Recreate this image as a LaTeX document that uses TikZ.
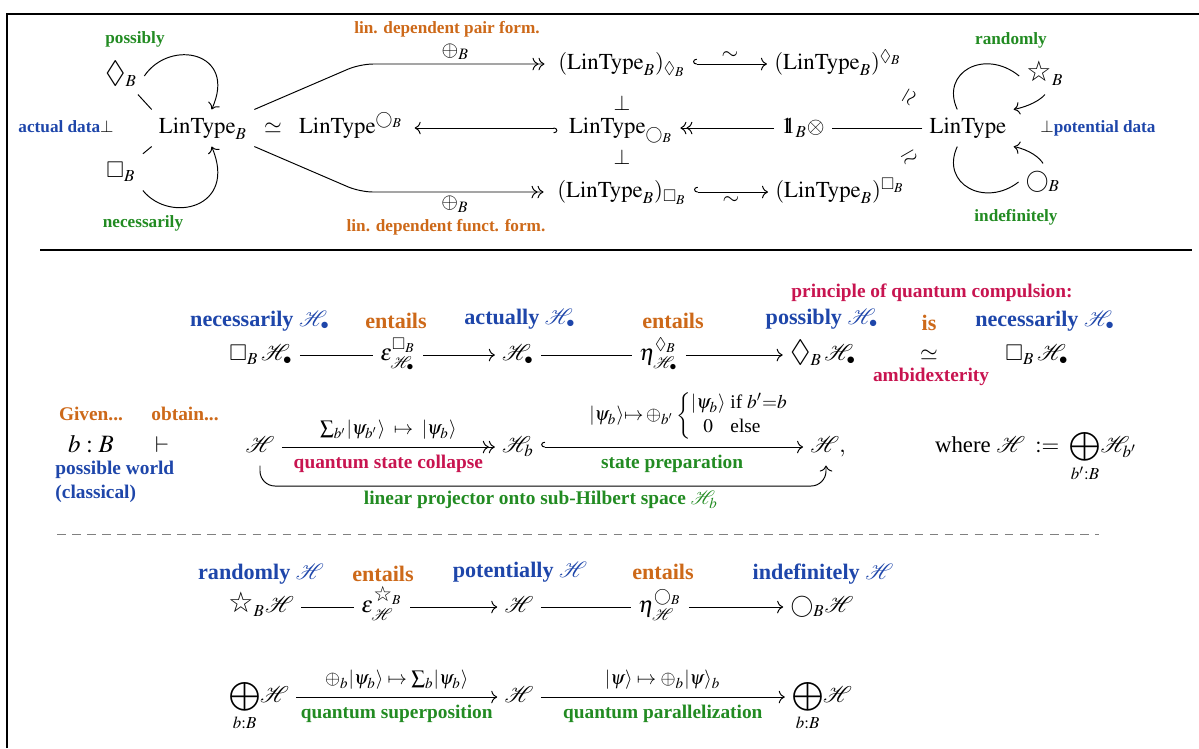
\documentclass[tikz,border=0pt]{standalone}
\usepackage{amsmath,amssymb}
\usepackage{mathptmx}
\usepackage{graphicx}
\usepackage{fontspec}
\setmainfont{Liberation Serif}
\newfontfamily\djv{DejaVu Sans}
\usetikzlibrary{cd,arrows.meta,calc}
\definecolor{cgreen}{RGB}{34,139,34}
\definecolor{corange}{RGB}{205,105,25}
\definecolor{cblue}{RGB}{30,70,170}
\definecolor{ccrim}{RGB}{200,20,80}
\newcommand{\wstar}{\mathord{\text{\djv\scalebox{1.25}{☆}}}}
\newcommand{\Dia}{\mathord{\raisebox{-0.3pt}{\scalebox{1.35}{$\lozenge$}}}}
\newcommand{\dsone}{\mathord{\mathrm{1}\mkern-6.8mu\mathrm{1}}}
\begin{document}
\begin{tikzpicture}[x=0.4653pt,y=-0.4653pt,>={cm to},line width=0.45pt,
  m/.style={text height=7.8pt,text depth=2.6pt,inner sep=3.2pt,font=\fontsize{10.6}{12.7}\selectfont},
  tl/.style={font=\footnotesize\bfseries},
  rl/.style={font=\fontsize{10.3}{12.4}\selectfont\bfseries},
  al/.style={font=\small\bfseries},
  hk/.style={{cm right hook}->}]
\useasboundingbox (0,0) rectangle (1199,748);
% frame
\draw[line width=0.8pt] (7,748) -- (7,14) -- (1199,14);
\draw[line width=1pt] (40,250) -- (1192,250);
\draw[gray,dash pattern=on 4pt off 3pt] (57,534) -- (1099,534);

% ---------------- top section
\node[m] (LB) at (203,128) {$\mathrm{LinType}_B$};
\node[m] (sim1) at (273,128) {$\simeq$};
\node[m] (LBo) at (351,128) {$\mathrm{LinType}^{\bigcirc_B}$};
\node[m] (dia) at (121,76) {$\Dia_B$};
\node[m] (box) at (121,172) {$\square_B$};
\node[tl,text=cgreen] (possibly) at (135,39) {possibly};
\node[tl,text=cgreen] (nec) at (143,223) {necessarily};
\node[tl] (actual) at (66,127) {\textcolor{cblue}{actual data}$\perp$};

\node[m] (Ld) at (622,64) {$(\mathrm{LinType}_B)_{\lozenge_B}$};
\node[m] (Ldu) at (838,64) {$(\mathrm{LinType}_B)^{\lozenge_B}$};
\node[m] (Lo) at (621,128) {$\mathrm{LinType}_{\bigcirc_B}$};
\node[m] (Lb) at (622,192) {$(\mathrm{LinType}_B)_{\square_B}$};
\node[m] (Lbu) at (840,192) {$(\mathrm{LinType}_B)^{\square_B}$};
\node (perp1) at (622,103) {$\perp$};
\node (perp2) at (622,157) {$\perp$};
\node[m] (L) at (968,128) {$\mathrm{LinType}$};
\node[m] (one) at (803,128) {$\dsone_B{\otimes}$};
\node[rotate=-120] (iso1) at (909,97) {$\simeq$};
\node[rotate=-150] (iso2) at (909,157) {$\simeq$};
\node[m] (st) at (1045,76) {$\wstar_B$};
\node[m] (ci) at (1043,182) {$\bigcirc_B$};
\node[tl,text=cgreen] (rand) at (1011,40) {randomly};
\node[tl,text=cgreen] (indef) at (1016,217) {indefinitely};
\node[tl] (pot) at (1098,128) {$\perp$\textcolor{cblue}{potential data}};

\coordinate (b1) at (360,64);
\coordinate (b2) at (360,192);
\draw[->>,rounded corners=6pt,shorten >=3pt] (LB.north east) -- (b1) -- node[above=-1.5pt]{$\oplus_B$} (Ld.west);
\draw[->>,rounded corners=6pt,shorten >=3pt] (LB.south east) -- (b2) -- node[below=-1.5pt]{$\oplus_B$} (Lb.west);
\node[tl,text=corange] (pairform) at (447,29) {lin. dependent pair form.};
\node[tl,text=corange] (functform) at (446,227) {lin. dependent funct. form.};
\draw[hk] (Ld) -- node[above=-1.5pt]{$\sim$} (Ldu);
\draw[hk] (Lb) -- node[below=-1.5pt]{$\sim$} (Lbu);
\draw[hk,shorten <=2pt,shorten >=2pt] (Lo) -- (LBo);
\draw (L) -- (one);
\draw[->>] (one) -- (Lo);

\draw (LB.north west) -- (dia);
\draw[->] (dia.east) .. controls (170,38) and (238,52) .. ([xshift=4pt]LB.north);
\draw (LB.south west) -- (box);
\draw[->] (box.south east) .. controls (170,224) and (238,208) .. ([xshift=4pt]LB.south);
\draw ([xshift=-5pt]L.north) .. controls (940,72) and (985,48) .. (st.west);
\draw[->] (st.south) .. controls (1040,100) and (1030,106) .. (L.north east);
\draw ([xshift=-5pt]L.south) .. controls (940,184) and (985,208) .. (ci.west);
\draw[->] (ci.north) .. controls (1040,158) and (1030,150) .. (L.south east);

% ---------------- middle section, row 1
\node[m] (m1) at (261,355) {$\square_B\,\mathcal H_\bullet$};
\node[m] (e1) at (398,355) {$\varepsilon^{\square_B}_{\mathcal H_\bullet}$};
\node[m] (m2) at (518,355) {$\mathcal H_\bullet$};
\node[m] (e2) at (659,355) {$\eta^{\lozenge_B}_{\mathcal H_\bullet}$};
\node[m] (m3) at (823,355) {$\Dia_B\,\mathcal H_\bullet$};
\node[m] (sim2) at (929,355) {$\simeq$};
\node[m] (m4) at (1037,355) {$\square_B\,\mathcal H_\bullet$};
\draw (m1) -- (e1);
\draw[->] (e1) -- (m2);
\draw (m2) -- (e2);
\draw[->] (e2) -- (m3);
\node[rl,text=cblue] (l1) at (260,321) {necessarily $\mathcal H_\bullet$};
\node[rl,text=corange] (l2) at (396,321) {entails};
\node[rl,text=cblue] (l3) at (520,319) {actually $\mathcal H_\bullet$};
\node[rl,text=corange] (l4) at (673,321) {entails};
\node[rl,text=cblue] (l5) at (822,319) {possibly $\mathcal H_\bullet$};
\node[rl,text=corange] (l6) at (929,323) {is};
\node[rl,text=cblue] (l7) at (1045,321) {necessarily $\mathcal H_\bullet$};
\node[al,text=ccrim] (pqc) at (932,293) {principle of quantum compulsion:};
\node[al,text=ccrim] (amb) at (931,377) {ambidexterity};

% row 2
\node[al,text=corange] (given) at (91,414) {Given...};
\node[al,text=corange] (obtain) at (185,414) {obtain...};
\node[m,font=\fontsize{11.6}{14}\selectfont] (bB) at (91,447) {$b:B$};
\node[m] (vd) at (162,447) {$\vdash$};
\node[al,text=cblue,align=left,anchor=north west,inner sep=0pt] (pw) at (55,461) {possible world\\(classical)};
\node[m] (H1) at (260,447) {$\mathcal H$};
\node[m] (Hb) at (518,447) {$\mathcal H_b$};
\node[m] (H2) at (828,447) {$\mathcal H,$};
\node[m] (where) at (1036,447) {where $\mathcal H \;\;{:=}\;\; \smash[b]{\displaystyle\bigoplus_{b':B}}\mathcal H_{b'}$};
\draw[->>] (H1) -- node[above,font=\small]{$\sum_{b'}\lvert\psi_{b'}\rangle\;\mapsto\;\lvert\psi_b\rangle$}
  node[below,al,text=ccrim]{quantum state collapse} (Hb);
\draw[hk] (Hb) -- node[above,font=\small,xshift=8pt]{$\lvert\psi_b\rangle{\mapsto}\oplus_{b'}\left\{\begin{array}{@{}c@{\ }l@{}}\lvert\psi_b\rangle & \text{if } b'{=}b\\ 0 & \text{else}\end{array}\right.$}
  node[below,al,text=cgreen]{state preparation} (H2);
\coordinate (c2) at (826,486);
\draw[->,rounded corners=7pt] (H1.south) |- (c2) -- (c2 |- H2.south);
\node[al,text=cgreen] (proj) at (541,500) {linear projector onto sub-Hilbert space $\mathcal H_b$};

% row 3
\node[m] (r1) at (261,607) {$\wstar_B\mathcal H$};
\node[m] (er) at (382,607) {$\varepsilon_{\mathcal H}^{\wstar_B}$};
\node[m] (r2) at (519,607) {$\mathcal H$};
\node[m] (eta) at (660,607) {$\eta^{\bigcirc_B}_{\mathcal H}$};
\node[m] (r3) at (822,607) {$\bigcirc_B\mathcal H$};
\draw (r1) -- (er);
\draw[->] (er) -- (r2);
\draw (r2) -- (eta);
\draw[->] (eta) -- (r3);
\node[rl,text=cblue] (k1) at (261,574) {randomly $\mathcal H$};
\node[rl,text=corange] (k2) at (383,574) {entails};
\node[rl,text=cblue] (k3) at (520,572) {potentially $\mathcal H$};
\node[rl,text=corange] (k4) at (663,572) {entails};
\node[rl,text=cblue] (k5) at (823,574) {indefinitely $\mathcal H$};

% row 4
\node[m] (s1) at (259,697) {$\smash[b]{\displaystyle\bigoplus_{b:B}}\mathcal H$};
\node[m] (s2) at (519,697) {$\mathcal H$};
\node[m] (s3) at (822,697) {$\smash[b]{\displaystyle\bigoplus_{b:B}}\mathcal H$};
\draw[->] (s1) -- node[above,font=\small]{$\oplus_b\lvert\psi_b\rangle\mapsto\sum_b\lvert\psi_b\rangle$}
  node[below,al,text=cgreen]{quantum superposition} (s2);
\draw[->] (s2) -- node[above,font=\small]{$\lvert\psi\rangle\mapsto\oplus_b\lvert\psi\rangle_b$}
  node[below,al,text=cgreen]{quantum parallelization} (s3);
\end{tikzpicture}
\end{document}
